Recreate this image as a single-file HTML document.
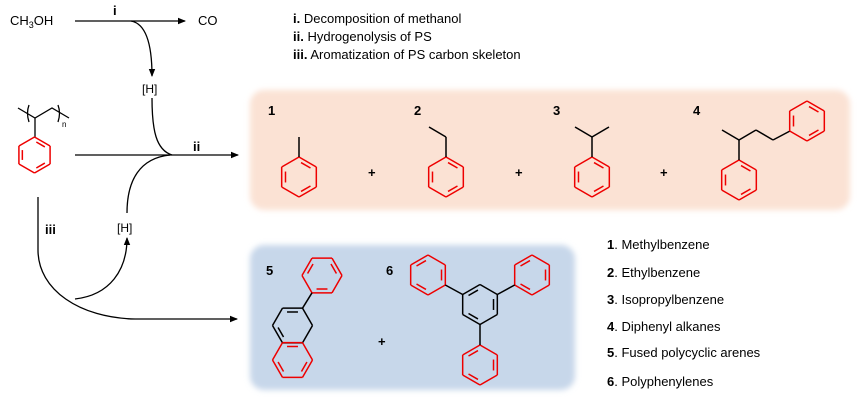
<!DOCTYPE html>
<html><head><meta charset="utf-8"><style>
body{margin:0;background:#fff;}
svg{display:block;font-family:"Liberation Sans",Arial,sans-serif;}
</style></head><body>
<svg id="s" width="864" height="403" viewBox="0 0 864 403" xmlns="http://www.w3.org/2000/svg">
<defs>
<marker id="a" markerWidth="8" markerHeight="8" refX="7" refY="4" orient="auto" markerUnits="userSpaceOnUse"><path d="M0,0.8 L8,4 L0,7.2 Z" fill="#000"/></marker>
<filter id="bl" x="-10%" y="-10%" width="120%" height="120%"><feGaussianBlur stdDeviation="3"/></filter>
</defs>
<rect x="250" y="90" width="600" height="120" rx="14" fill="#fbe2d4" filter="url(#bl)"/>
<rect x="250" y="245" width="325" height="145" rx="14" fill="#c7d7ea" filter="url(#bl)"/>
<g font-size="13" fill="#000">
<text x="10" y="25">CH<tspan font-size="9" dy="3">3</tspan><tspan dy="-3">OH</tspan></text>
<text x="198" y="25">CO</text>
<text x="113" y="15" font-weight="bold">i</text>
<text x="142" y="93" font-size="12">[H]</text>
<text x="193" y="151" font-weight="bold">ii</text>
<text x="45" y="234" font-weight="bold">iii</text>
<text x="117" y="232" font-size="12">[H]</text>
<text x="293" y="23"><tspan font-weight="bold">i.</tspan>   Decomposition of methanol</text>
<text x="293" y="41"><tspan font-weight="bold">ii.</tspan>  Hydrogenolysis of  PS</text>
<text x="293" y="59"><tspan font-weight="bold">iii.</tspan> Aromatization of PS carbon skeleton</text>
</g>
<g font-size="13" font-weight="bold">
<text x="268" y="115">1</text><text x="414" y="115">2</text><text x="553" y="115">3</text><text x="693" y="115">4</text>
<text x="266" y="275">5</text><text x="386" y="275">6</text>
<text x="368" y="177">+</text><text x="515" y="177">+</text><text x="660" y="177">+</text><text x="378" y="346">+</text>
</g>
<g font-size="13">
<text x="607" y="249"><tspan font-weight="bold">1</tspan>. Methylbenzene</text>
<text x="607" y="277"><tspan font-weight="bold">2</tspan>. Ethylbenzene</text>
<text x="607" y="304"><tspan font-weight="bold">3</tspan>. Isopropylbenzene</text>
<text x="607" y="331"><tspan font-weight="bold">4</tspan>. Diphenyl alkanes</text>
<text x="607" y="357"><tspan font-weight="bold">5</tspan>. Fused polycyclic arenes</text>
<text x="607" y="386"><tspan font-weight="bold">6</tspan>. Polyphenylenes</text>
</g>
<g fill="none" stroke="#000" stroke-width="1.3">
<line x1="75" y1="21" x2="185" y2="21" marker-end="url(#a)"/>
<path d="M131,21 C148,24 152,50 152,76" marker-end="url(#a)"/>
<path d="M152,98 C152,130 156,150 172,155"/>
<line x1="75" y1="155" x2="238" y2="155" marker-end="url(#a)"/>
<path d="M170,155 C140,158 127,180 127,213"/>
<path d="M75,299 C110,295 127,270 127,238" marker-end="url(#a)"/>
<path d="M38,197 L38,250 C38,290 80,318 135,319 L237,319" marker-end="url(#a)"/>
<path d="M18,108 L35,118 L52,108 L69,118 M35,118 L35,137"/>
<path d="M29,105 Q26,113 29,122 M58,105 Q61,113 58,122"/>
</g>
<text x="62" y="127" font-size="8">n</text>
<g id="mol" fill="none" stroke-width="1.5" stroke-linejoin="round"></g>
</svg>
<script>
var g=document.getElementById('mol'),NS='http://www.w3.org/2000/svg';
function ln(x1,y1,x2,y2,c){var l=document.createElementNS(NS,'line');l.setAttribute('x1',x1);l.setAttribute('y1',y1);l.setAttribute('x2',x2);l.setAttribute('y2',y2);l.setAttribute('stroke',c);g.appendChild(l);}
function ring(cx,cy,r,rot,c,dbl){c=c||'#e00';var p=[];for(var i=0;i<6;i++){var a=(rot+60*i)*Math.PI/180;p.push([cx+r*Math.cos(a),cy+r*Math.sin(a)]);}
for(var i=0;i<6;i++){var A=p[i],B=p[(i+1)%6];ln(A[0],A[1],B[0],B[1],c);}
(dbl||[0,2,4]).forEach(function(i){var A=p[i],B=p[(i+1)%6],k=0.78,t=0.15;var a=[cx+(A[0]-cx)*k,cy+(A[1]-cy)*k],b=[cx+(B[0]-cx)*k,cy+(B[1]-cy)*k];ln(a[0]+(b[0]-a[0])*t,a[1]+(b[1]-a[1])*t,b[0]+(a[0]-b[0])*t,b[1]+(a[1]-b[1])*t,c);});return p;}
var K='#000';
// PS
ring(34.5,155,18,-90);
// 1
ring(299,177,20,-90);ln(299,157,299,137,K);
// 2
ring(446,177,20,-90);ln(446,157,446,137,K);ln(446,137,429,127,K);
// 3
ring(592,177,20,-90);ln(592,157,592,137,K);ln(592,137,575,127,K);ln(592,137,609,127,K);
// 4
ring(739,180,20,-90);ln(739,160,739,140,K);ln(739,140,722,130,K);ln(739,140,756,130,K);ln(756,130,773,140,K);ln(773,140,790,131,K);
ring(807,121,20,-90);
// 5
ring(322,275.5,20,0,'#e00',[1,3,5]);
ring(292.5,325.5,20,0,K,[2,4]);
ring(292.5,360,20,0,'#e00',[0,2,4]);
ln(302.5,308.2,312,292.8,K);
// 6
var c=ring(480,304.5,20,-90,K,[1,3,5]);
ring(428,275,20,-90,'#e00',[1,3,5]);
ring(532,275,20,-90,'#e00',[1,3,5]);
ring(480,365,20,-90,'#e00',[1,3,5]);
ln(c[5][0],c[5][1],445.3,285,K);ln(c[1][0],c[1][1],514.7,285,K);ln(480,324.5,480,345,K);
</script>
</body></html>
